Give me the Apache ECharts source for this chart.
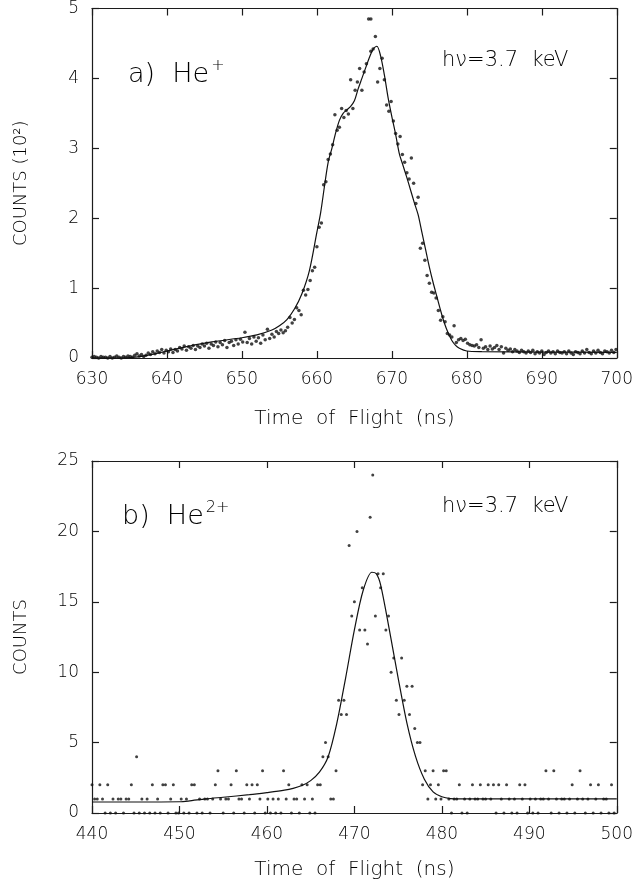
<!DOCTYPE html>
<html>
<head>
<meta charset="utf-8">
<script src="https://cdn.jsdelivr.net/npm/echarts@6/dist/echarts.min.js"></script>
<style>
html,body{margin:0;padding:0;background:#fff;}
#chart{width:636px;height:888px;}
</style>
</head>
<body>
<div id="chart"></div>
<script>
// ---------- Panel a) He+ ----------
const binStartA = 630.0;
const binWidthA = 0.3;
const countsA = [
 0.01,0.02,0.01,0.00,0.02,0.01,0.01,0.00,0.02,0.00,
 0.01,0.03,0.01,0.00,0.02,0.01,0.03,0.02,0.01,0.04,
 0.06,0.03,0.05,0.02,0.04,0.07,0.05,0.09,0.06,0.10,
 0.08,0.12,0.07,0.11,0.09,0.13,0.08,0.12,0.10,0.15,
 0.13,0.17,0.11,0.16,0.14,0.18,0.12,0.17,0.15,0.20,
 0.17,0.21,0.14,0.20,0.18,0.23,0.16,0.22,0.19,0.25,
 0.15,0.22,0.24,0.18,0.26,0.20,0.27,0.23,0.37,0.22,
 0.28,0.20,0.30,0.24,0.29,0.21,0.33,0.26,0.41,0.28,
 0.34,0.30,0.38,0.35,0.40,0.36,0.39,0.44,0.58,0.50,
 0.55,0.72,0.68,0.62,0.97,0.90,0.98,1.11,1.25,1.30,
 1.59,1.87,1.93,2.48,2.52,2.84,2.92,3.05,3.48,3.26,
 3.30,3.57,3.44,3.54,3.49,3.98,3.57,3.83,3.95,4.14,
 3.83,4.09,4.21,4.85,4.39,4.42,4.60,3.95,4.14,4.29,
 3.98,3.62,3.53,3.67,3.39,3.21,3.06,3.17,2.91,2.80,
 2.65,2.56,2.86,2.50,2.21,2.30,1.57,1.64,1.40,1.18,
 1.07,0.94,0.93,0.86,0.68,0.54,0.59,0.52,0.35,0.33,
 0.30,0.46,0.22,0.26,0.28,0.25,0.27,0.21,0.19,0.18,
 0.17,0.19,0.15,0.26,0.14,0.16,0.12,0.17,0.13,0.15,
 0.18,0.12,0.16,0.07,0.14,0.11,0.13,0.09,0.12,0.10,
 0.08,0.11,0.09,0.07,0.10,0.08,0.11,0.06,0.09,0.07,
 0.10,0.05,0.08,0.10,0.07,0.09,0.06,0.10,0.08,0.07,
 0.09,0.06,0.10,0.07,0.05,0.09,0.08,0.06,0.10,0.07,
 0.12,0.08,0.06,0.10,0.07,0.11,0.08,0.06,0.10,0.09,
 0.07,0.11,0.08,0.12
];
const extraTofA = [667.2];
const extraCountsA = [4.85];
const fitTofA = [630,634,637,640,643,646,650,652,654,655,656,657,658,659,660,660.5,661,661.5,662,662.5,663,663.5,664,664.5,665,665.5,666,666.5,667,667.5,668,668.5,669,669.5,670,670.5,671,671.5,672,672.5,673,673.5,674,674.5,675,675.5,676,676.5,677,677.5,678,678.5,679,680,682,690,700];
const fitCountsA = [0.0,0.0,0.03,0.10,0.17,0.23,0.29,0.33,0.40,0.46,0.55,0.70,0.92,1.25,1.80,2.08,2.45,2.80,3.00,3.22,3.40,3.50,3.55,3.60,3.68,3.85,4.00,4.15,4.30,4.42,4.46,4.32,4.05,3.72,3.45,3.20,2.92,2.75,2.58,2.40,2.22,2.05,1.80,1.55,1.30,1.08,0.88,0.68,0.50,0.36,0.25,0.18,0.14,0.10,0.09,0.085,0.08];
const xTicksA = {min:630, max:700, step:10};
const yTicksA = {min:0, max:5, step:1};

// ---------- Panel b) He2+ ----------
const binStartB = 440.0;
const binWidthB = 0.3;
const countsB = [
 2,1,1,2,1,0,2,0,1,0,
 1,1,0,1,1,2,0,4,0,1,
 0,1,0,2,0,1,0,2,2,0,
 1,2,0,0,1,0,1,0,2,2,
 0,1,0,1,1,0,1,2,3,1,
 0,1,1,2,0,3,1,1,0,2,
 1,2,0,2,1,3,0,1,0,1,
 0,1,0,3,1,2,0,1,1,0,
 2,1,2,0,1,0,2,2,4,5,
 4,1,1,3,8,7,8,7,19,14,
 15,20,13,16,13,12,21,24,14,17,
 16,17,13,14,10,11,8,7,11,8,
 9,7,9,6,5,5,2,3,1,2,
 3,1,2,1,3,3,1,0,1,1,
 2,0,1,0,1,2,1,1,2,1,
 1,2,1,2,0,2,1,0,2,1,
 0,1,0,2,1,2,0,1,0,1,
 0,1,1,3,1,0,3,1,0,1,
 1,0,1,2,0,1,3,1,0,1,
 2,0,1,2,0,1,1,0,2,0
];
const fitTofB = [440,445,450,451,453,455,458,460,462,463,464,465,466,467,468,469,470,471,472,472.5,473,474,475,476,477,478,479,480,481,482,490,500];
const fitCountsB = [0.78,0.78,0.80,0.85,1.00,1.12,1.30,1.45,1.62,1.75,1.95,2.30,2.90,4.00,6.40,9.60,13.0,15.8,17.1,17.0,16.2,13.0,9.6,6.4,4.0,2.4,1.5,1.15,1.02,1.0,1.0,1.0];
const xTicksB = {min:440, max:500, step:10};
const yTicksB = {min:0, max:25, step:5};

const FONT = 'DejaVu Sans';
const FW = 200;
const INK = '#000000';

function pairs(xs, ys){ return xs.map((x,i)=>[x, ys[i]]); }
function binned(start, width, ys){ return ys.map((y,i)=>[+(start + width*i).toFixed(2), y]); }

const scatterA = binned(binStartA, binWidthA, countsA).concat(pairs(extraTofA, extraCountsA));
const scatterB = binned(binStartB, binWidthB, countsB);

function xAxes(g, t, name, gap){
  const common = {
    gridIndex:g, type:'value', min:t.min, max:t.max, interval:t.step,
    axisLine:{show:true, onZero:false, lineStyle:{color:'#1c1c1c', width:1.2}},
    axisTick:{show:true, inside:true, length:7, lineStyle:{color:'#1c1c1c', width:1.2}},
    splitLine:{show:false}
  };
  return [
    Object.assign({}, common, {position:'bottom',
      axisLabel:{show:true, margin:13, fontSize:17, fontFamily:FONT, fontWeight:FW, color:INK},
      name:name, nameLocation:'middle', nameGap:gap,
      nameTextStyle:{fontSize:20, fontFamily:FONT, fontWeight:FW, color:INK}}),
    Object.assign({}, common, {position:'top', axisLabel:{show:false}})
  ];
}
function yAxes(g, t, name, gap){
  const common = {
    gridIndex:g, type:'value', min:t.min, max:t.max, interval:t.step,
    axisLine:{show:true, onZero:false, lineStyle:{color:'#1c1c1c', width:1.2}},
    axisTick:{show:true, inside:true, length:7, lineStyle:{color:'#1c1c1c', width:1.2}},
    splitLine:{show:false}
  };
  return [
    Object.assign({}, common, {position:'left',
      axisLabel:{show:true, margin:13, fontSize:17, fontFamily:FONT, fontWeight:FW, color:INK},
      name:name, nameLocation:'middle', nameGap:gap, nameRotate:90,
      nameTextStyle:{fontSize:18, fontFamily:FONT, fontWeight:FW, color:INK}}),
    Object.assign({}, common, {position:'right', axisLabel:{show:false}})
  ];
}

const chart = echarts.init(document.getElementById('chart'), null, {renderer:'canvas'});
chart.setOption({
  animation:false,
  backgroundColor:'#ffffff',
  grid:[
    {left:92, top:7, width:529, height:351},
    {left:92, top:461, width:528, height:352}
  ],
  xAxis: xAxes(0, xTicksA, 'Time  of  Flight  (ns)', 51).concat(xAxes(1, xTicksB, 'Time  of  Flight  (ns)', 47)),
  yAxis: yAxes(0, yTicksA, 'COUNTS (10²)', 62).concat(yAxes(1, yTicksB, 'COUNTS', 62)),
  series:[
    {type:'scatter', xAxisIndex:0, yAxisIndex:0, data:scatterA, symbol:'circle', symbolSize:3.5, itemStyle:{color:'#111'}, silent:true},
    {type:'line', xAxisIndex:0, yAxisIndex:0, data:pairs(fitTofA, fitCountsA), smooth:0.3, showSymbol:false, lineStyle:{color:'#111', width:1.2}, silent:true},
    {type:'scatter', xAxisIndex:2, yAxisIndex:2, data:scatterB, symbol:'circle', symbolSize:3.0, itemStyle:{color:'#111'}, silent:true},
    {type:'line', xAxisIndex:2, yAxisIndex:2, data:pairs(fitTofB, fitCountsB), smooth:0.3, showSymbol:false, lineStyle:{color:'#111', width:1.2}, silent:true}
  ],
  graphic:[
    {type:'text', left:128, top:58, style:{
      text:'{m|a)  He}{s|+}', rich:{
        m:{fontSize:27, fontFamily:FONT, fontWeight:FW, fill:INK, lineHeight:34},
        s:{fontSize:16, fontFamily:FONT, fontWeight:FW, fill:INK, verticalAlign:'top', lineHeight:34, padding:[0,0,14,2]}
      }}},
    {type:'text', left:442, top:50, style:{text:'hν=3.7  keV', fontSize:21, fontFamily:FONT, fontWeight:FW, fill:INK}},
    {type:'text', left:122, top:500, style:{
      text:'{m|b)  He}{s|2+}', rich:{
        m:{fontSize:27, fontFamily:FONT, fontWeight:FW, fill:INK, lineHeight:34},
        s:{fontSize:16, fontFamily:FONT, fontWeight:FW, fill:INK, verticalAlign:'top', lineHeight:34, padding:[0,0,14,2]}
      }}},
    {type:'text', left:442, top:496, style:{text:'hν=3.7  keV', fontSize:21, fontFamily:FONT, fontWeight:FW, fill:INK}}
  ]
});
</script>
</body>
</html>
